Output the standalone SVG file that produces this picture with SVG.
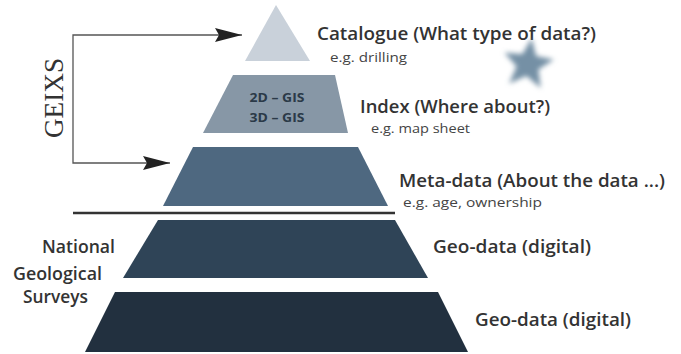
<svg xmlns="http://www.w3.org/2000/svg" width="681" height="354" viewBox="0 0 681 354">
<style>
.lbl{font-family:"Open Sans","Liberation Sans",sans-serif;font-weight:600;fill:#333;}
.big{font-size:18.5px;}
.sm{font-family:"Open Sans","Liberation Sans",sans-serif;font-size:13.5px;fill:#444;}
.gis{font-family:"Open Sans","Liberation Sans",sans-serif;font-weight:700;font-size:12.5px;fill:#2b3a48;text-anchor:middle;}
.conn{fill:none;stroke:#555;stroke-width:1.3;}
</style>
<defs>
<marker id="arr" markerUnits="userSpaceOnUse" markerWidth="28" markerHeight="16" refX="27" refY="7" orient="auto-start-reverse">
<path d="M0,0 L27,7 L0,14 L4,7 Z" fill="#222"/>
</marker>
<filter id="blur" x="-30%" y="-30%" width="160%" height="160%"><feGaussianBlur stdDeviation="2.5"/></filter>
</defs>
<rect width="681" height="354" fill="#fff"/>
<g id="catalogue">
<polygon points="276,5 310,61 245,61" fill="#c9d1da"/>
<text class="lbl big" x="317" y="40" textLength="279" lengthAdjust="spacingAndGlyphs">Catalogue (What type of data?)</text>
<text class="sm" x="330" y="62" textLength="77" lengthAdjust="spacingAndGlyphs">e.g. drilling</text>
</g>
<g id="index">
<polygon points="233,75 335,75 348,133 203,133" fill="#8797a6"/>
<text class="gis" x="277" y="102" textLength="55" lengthAdjust="spacingAndGlyphs">2D – GIS</text>
<text class="gis" x="277" y="122" textLength="55" lengthAdjust="spacingAndGlyphs">3D – GIS</text>
<text class="lbl big" x="360" y="113" textLength="190" lengthAdjust="spacingAndGlyphs">Index (Where about?)</text>
<text class="sm" x="371" y="133" textLength="99" lengthAdjust="spacingAndGlyphs">e.g. map sheet</text>
</g>
<g id="metadata">
<polygon points="193,147 358,147 388,206 163,206" fill="#4e6880"/>
<text class="lbl big" x="399" y="187" textLength="266" lengthAdjust="spacingAndGlyphs">Meta-data (About the data ...)</text>
<text class="sm" x="403" y="207" textLength="139" lengthAdjust="spacingAndGlyphs">e.g. age, ownership</text>
</g>
<line x1="73" y1="213" x2="395" y2="213" stroke="#333" stroke-width="2.5"/>
<g id="geodata1">
<polygon points="158,220 395,220 428,278 123,278" fill="#2f4457"/>
<text class="lbl big" x="433" y="253" textLength="158" lengthAdjust="spacingAndGlyphs">Geo-data (digital)</text>
</g>
<g id="geodata2">
<polygon points="115,292 438,292 468,352 85,352" fill="#22303f"/>
<text class="lbl big" x="475" y="326" textLength="156" lengthAdjust="spacingAndGlyphs">Geo-data (digital)</text>
</g>
<g id="surveys">
<text class="lbl" font-size="17.5" x="42" y="253" textLength="73" lengthAdjust="spacingAndGlyphs">National</text>
<text class="lbl" font-size="17.5" x="13" y="280" textLength="89" lengthAdjust="spacingAndGlyphs">Geological</text>
<text class="lbl" font-size="17.5" x="23" y="303" textLength="65" lengthAdjust="spacingAndGlyphs">Surveys</text>
</g>
<g id="geixs">
<text font-family="Liberation Serif,serif" font-size="28" fill="#333" text-anchor="middle" transform="translate(63,98) rotate(-90)" textLength="80" lengthAdjust="spacingAndGlyphs">GEIXS</text>
</g>
<g id="star">
<polygon transform="translate(528,64) rotate(8)" points="0,-26 7,-9 25,-8 11,4 16,22 0,12 -16,22 -11,4 -25,-8 -7,-9" fill="#7590a5" filter="url(#blur)"/>
</g>
<g id="connectors">
<path class="conn" d="M170,163 H73 V35 H242" marker-start="url(#arr)" marker-end="url(#arr)"/>
</g>
</svg>
